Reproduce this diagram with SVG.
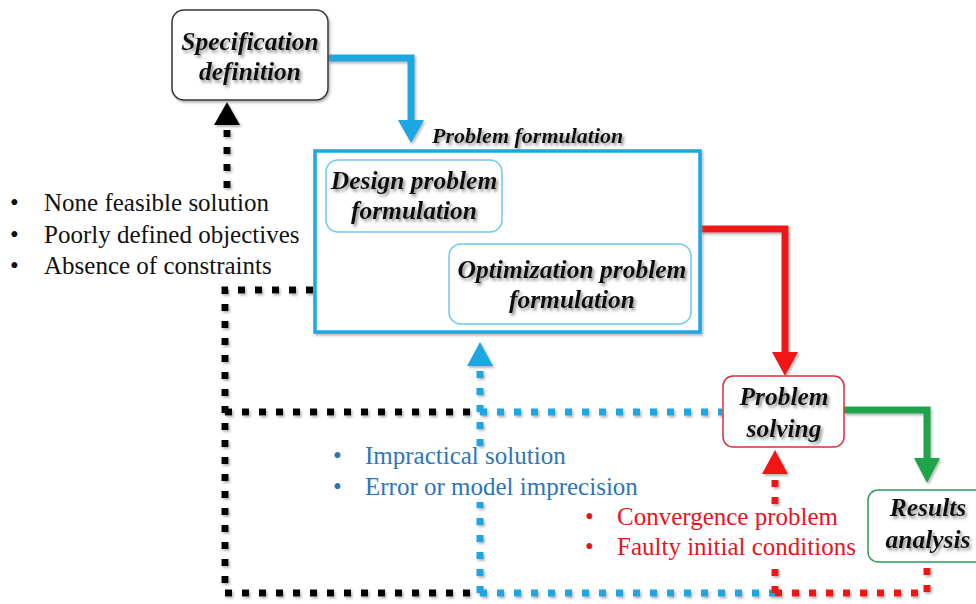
<svg xmlns="http://www.w3.org/2000/svg" width="976" height="604" viewBox="0 0 976 604">
<defs>
<filter id="ts" x="-10%" y="-20%" width="130%" height="150%"><feDropShadow dx="2" dy="2.5" stdDeviation="1.6" flood-color="#777" flood-opacity="0.8"/></filter>
<filter id="ls" x="-10%" y="-10%" width="130%" height="130%"><feDropShadow dx="1.5" dy="2" stdDeviation="1.2" flood-color="#888" flood-opacity="0.6"/></filter>
<style>
.lbl{font-family:"Liberation Serif","Times New Roman",serif;font-weight:bold;font-style:italic;font-size:25.5px;fill:#111;text-anchor:middle}
.lst{font-family:"Liberation Serif","Times New Roman",serif;font-size:25px}
.box{fill:#fff;stroke-width:1.5}
.dot{fill:none;stroke-width:7;stroke-dasharray:7 10}
.solid{fill:none;stroke-width:7}
</style>
</defs>
<rect width="976" height="604" fill="#fff"/>

<g id="connectors">
 <g filter="url(#ls)">
  <path class="solid" d="M328 58H411V122" stroke="#1BA6E2"/>
  <polygon points="398,120 424,120 411,143" fill="#1BA6E2"/>
  <path class="solid" d="M700 229H785V353" stroke="#F01414"/>
  <polygon points="772,352 798,352 785,376" fill="#F01414"/>
  <path class="solid" d="M844 410H927V460" stroke="#1FA64A"/>
  <polygon points="914,458 940,458 927,483" fill="#1FA64A"/>

  <path class="dot" d="M227 188V128" stroke="#000"/>
  <polygon points="214,125 240,125 227,102" fill="#000"/>
  <path class="dot" d="M313 290H225V593H476" stroke="#000"/>
  <path class="dot" d="M225 412H476" stroke="#000"/>

  <path class="dot" d="M480 593H775" stroke="#1BA6E2"/>
  <path class="dot" d="M480 593V502" stroke="#1BA6E2"/>
  <path class="dot" d="M480 446V368" stroke="#1BA6E2"/>
  <polygon points="467,366 493,366 480,342" fill="#1BA6E2"/>
  <path class="dot" d="M480 412H722" stroke="#1BA6E2"/>

  <path class="dot" d="M775 593H927V563" stroke="#F01414"/>
  <path class="dot" d="M775 593V566" stroke="#F01414"/>
  <path class="dot" d="M775 504V475" stroke="#F01414"/>
  <polygon points="762,474 788,474 775,450" fill="#F01414"/>
 </g>
</g>

<g id="spec">
 <rect class="box" x="172" y="10" width="156" height="90" rx="12" stroke="#333" filter="url(#ls)"/>
 <g filter="url(#ts)"><text class="lbl" x="250" y="50">Specification</text><text class="lbl" x="250" y="80">definition</text></g>
</g>

<g id="problem-formulation">
 <text x="432" y="143" filter="url(#ts)" style="font-family:'Liberation Serif','Times New Roman',serif;font-weight:bold;font-style:italic;font-size:22px;fill:#111">Problem formulation</text>
 <rect x="315" y="151" width="385" height="181" fill="#fff" stroke="#1BA6E2" stroke-width="3.5" filter="url(#ls)"/>
</g>

<g id="design">
 <rect class="box" x="326" y="160" width="176" height="72" rx="12" stroke="#6CC8EE"/>
 <g filter="url(#ts)"><text class="lbl" x="414" y="189">Design problem</text><text class="lbl" x="414" y="219">formulation</text></g>
</g>

<g id="optimization">
 <rect class="box" x="449" y="244" width="242" height="80" rx="12" stroke="#6CC8EE"/>
 <g filter="url(#ts)"><text class="lbl" x="572" y="278">Optimization problem</text><text class="lbl" x="572" y="308">formulation</text></g>
</g>

<g id="solving">
 <rect class="box" x="723" y="376" width="121" height="71" rx="10" stroke="#D8303A"/>
 <g filter="url(#ts)"><text class="lbl" x="784" y="405">Problem</text><text class="lbl" x="784" y="437">solving</text></g>
</g>

<g id="results">
 <rect class="box" x="868" y="490" width="118" height="72" rx="10" stroke="#2E9B5A"/>
 <g filter="url(#ts)"><text class="lbl" x="928" y="516">Results</text><text class="lbl" x="928" y="548">analysis</text></g>
</g>

<g id="list-black" class="lst" fill="#111">
 <text x="10" y="211">•</text><text x="44" y="211">None feasible solution</text>
 <text x="10" y="243">•</text><text x="44" y="243">Poorly defined objectives</text>
 <text x="10" y="274">•</text><text x="44" y="274">Absence of constraints</text>
</g>
<g id="list-blue" class="lst" fill="#2E75B6">
 <text x="333" y="464">•</text><text x="365" y="464">Impractical solution</text>
 <text x="333" y="495">•</text><text x="365" y="495">Error or model imprecision</text>
</g>
<g id="list-red" class="lst" fill="#E8141B">
 <text x="585" y="525">•</text><text x="617" y="525">Convergence problem</text>
 <text x="585" y="555">•</text><text x="617" y="555">Faulty initial conditions</text>
</g>
</svg>
